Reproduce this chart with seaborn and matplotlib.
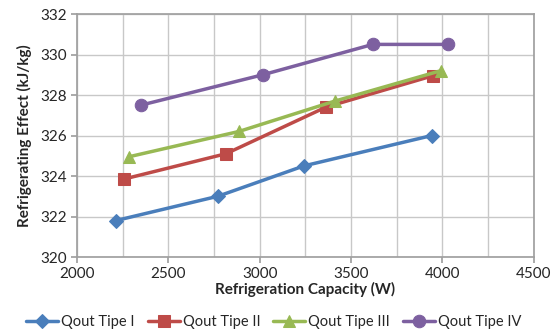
import pandas as pd
import seaborn as sns
import matplotlib.pyplot as plt
from matplotlib.ticker import MultipleLocator

# data
cap_1 = [2213, 2771, 3242, 3942]
eff_1 = [321.8, 323.0, 324.5, 326.0]
cap_2 = [2257, 2815, 3362, 3947]
eff_2 = [323.85, 325.1, 327.4, 328.95]
cap_3 = [2284, 2886, 3411, 3991]
eff_3 = [324.95, 326.2, 327.7, 329.2]
cap_4 = [2350, 3017, 3619, 4029]
eff_4 = [327.5, 329.0, 330.5, 330.5]

series = ["Qout Tipe I", "Qout Tipe II", "Qout Tipe III", "Qout Tipe IV"]
colors = ["#4A7EBB", "#BE4B48", "#98B954", "#7D60A0"]
markers = ["D", "s", "^", "o"]
msizes = [7, 9, 9, 9]

sns.set_theme(style="white")
plt.rcParams['font.family'] = ['Lato', 'DejaVu Sans']

fig = plt.figure(figsize=(5.52, 3.34), dpi=100)
ax = fig.add_axes([0.1395, 0.2305, 0.8275, 0.7275])

caps = [cap_1, cap_2, cap_3, cap_4]
effs = [eff_1, eff_2, eff_3, eff_4]
for name, x, y, c, m, ms in zip(series, caps, effs, colors, markers, msizes):
    df = pd.DataFrame({"cap": x, "eff": y})
    sns.lineplot(data=df, x="cap", y="eff", ax=ax, color=c, marker=m,
                 markersize=ms, markeredgecolor=c, linewidth=2.5,
                 sort=False, label=name)

ax.set_xlim(2000, 4500)
ax.set_ylim(320, 332)
ax.xaxis.set_major_locator(MultipleLocator(500))
ax.xaxis.set_minor_locator(MultipleLocator(250))
ax.yaxis.set_major_locator(MultipleLocator(2))
ax.grid(True, which="both", color="#c8c8c8", linewidth=1)
for s in ax.spines.values():
    s.set_color("#a0a0a0")
ax.tick_params(axis="both", which="major", labelsize=11, length=4,
               color="#a0a0a0", direction="out", bottom=True, left=True,
               pad=3)
ax.set_xlabel("Refrigeration Capacity (W)", fontsize=11, fontweight="bold", labelpad=1)
ax.set_ylabel("Refrigerating Effect (kJ/kg)", fontsize=11, fontweight="bold", labelpad=6)

# legend below the axes, one row
handles, labels = ax.get_legend_handles_labels()
ax.get_legend().remove()
fig.legend(handles, labels, loc="center left", bbox_to_anchor=(26 / 552, 12 / 334),
           ncol=4, frameon=False, fontsize=10.5, handlelength=2.2,
           columnspacing=0.9, handletextpad=0.2, borderpad=0, borderaxespad=0)

fig.savefig("out.png", dpi=100)
